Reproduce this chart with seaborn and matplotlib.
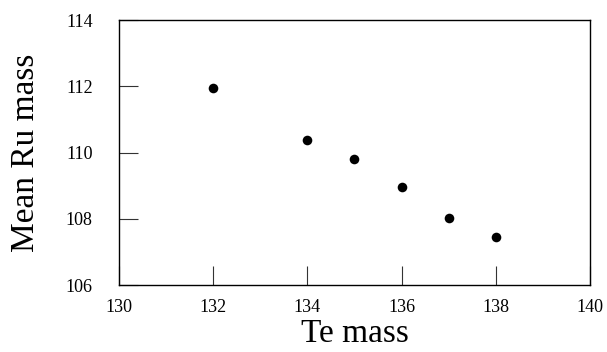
import matplotlib
matplotlib.use("Agg")
import matplotlib.pyplot as plt
import seaborn as sns
import pandas as pd

# data
te_mass = [132, 134, 135, 136, 137, 138]
ru_mean = [111.95, 110.37, 109.82, 108.95, 108.02, 107.44]

df = pd.DataFrame({"Te mass": te_mass, "Mean Ru mass": ru_mean})

sns.set_style("white", {"text.color": "black", "axes.labelcolor": "black",
                        "xtick.color": "black", "ytick.color": "black"})
plt.rcParams['font.family'] = ['Liberation Serif', 'DejaVu Serif']

fig = plt.figure(figsize=(6.07, 3.52), dpi=100)
ax = fig.add_axes([0.196, 0.19, 0.776, 0.753])
sns.scatterplot(data=df, x="Te mass", y="Mean Ru mass", color="black", s=48,
                edgecolor="black", linewidth=0, ax=ax)

ax.set_xlim(130, 140)
ax.set_ylim(106, 114)
ax.set_xticks(range(130, 141, 2))
ax.set_yticks(range(106, 115, 2))
ax.tick_params(direction="in", length=14, width=0.8, color="#333333",
               labelcolor="black", labelsize=13,
               top=False, right=False, bottom=True, left=True)
ax.tick_params(axis="x", pad=10)
ax.tick_params(axis="y", pad=19)
for sp in ax.spines.values():
    sp.set_color("black")
    sp.set_linewidth(1.0)
ax.set_xlabel("Te mass", fontsize=24, labelpad=2, color="black")
ax.set_ylabel("Mean Ru mass", fontsize=24, labelpad=18, color="black")

fig.savefig("out.png", dpi=100)
